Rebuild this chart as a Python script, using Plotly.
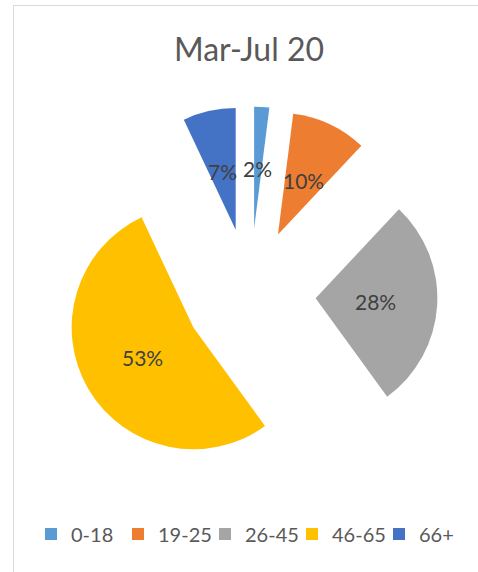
import math
import plotly.graph_objects as go

# Age-group shares for Mar-Jul 20
groups = ["0-18", "19-25", "26-45", "46-65", "66+"]
shares = [2, 10, 28, 53, 7]
colors = ["#5B9BD5", "#ED7D31", "#A5A5A5", "#FFC000", "#4472C4"]
explode = [0.54, 0.54, 0.54, 0.54, 0.54]

FONT = "Lato"
FIG_W, FIG_H = 478, 572
M_L, M_R, M_T, M_B = 14, 14, 104, 88
PLOT_W = FIG_W - M_L - M_R
PLOT_H = FIG_H - M_T - M_B


def px_x(x):
    return (x - M_L) / PLOT_W


def px_y(y):
    return (FIG_H - M_B - y) / PLOT_H


# Pie box: centred at x=250 px, 375 px square, vertically centred on the plot area
PIE_CX, PIE_HALF = 250, 187.5
dom_x = [px_x(PIE_CX - PIE_HALF), px_x(PIE_CX + PIE_HALF)]

fig = go.Figure(
    go.Pie(
        labels=groups,
        values=shares,
        sort=False,
        direction="clockwise",
        rotation=0,
        pull=explode,
        domain=dict(x=dom_x, y=[0, 1]),
        marker=dict(colors=colors, line=dict(width=0)),
        textinfo="none",
        hoverinfo="label+percent",
    )
)

# Data labels sit halfway out along each exploded slice's bisector,
# using the same radius plotly derives for the pie.
box_w = PLOT_W * (dom_x[1] - dom_x[0])
r_px = min(box_w, PLOT_H) / 2 / (1 + max(explode))
cx_paper = (dom_x[0] + dom_x[1]) / 2
total = sum(shares)
cum = 0
annotations = []
for v, p in zip(shares, explode):
    mid = math.radians((cum + v / 2) / total * 360)
    cum += v
    dist = (p + 0.49) * r_px
    annotations.append(dict(
        x=cx_paper + dist * math.sin(mid) / PLOT_W,
        y=0.5 + dist * math.cos(mid) / PLOT_H,
        xref="paper", yref="paper",
        text=f"{round(v / total * 100)}%",
        showarrow=False,
        xanchor="center", yanchor="middle",
        font=dict(family=FONT, size=21, color="#404040"),
    ))

# Chart-area frame
fig.add_shape(
    type="rect", xref="paper", yref="paper",
    x0=px_x(13.5), x1=px_x(FIG_W + 5),
    y0=px_y(FIG_H + 5), y1=px_y(5.5),
    line=dict(color="#D9D9D9", width=1),
    fillcolor="rgba(0,0,0,0)",
    layer="below",
)

fig.update_layout(
    width=FIG_W, height=FIG_H, autosize=False,
    margin=dict(l=M_L, r=M_R, t=M_T, b=M_B),
    paper_bgcolor="white", plot_bgcolor="white",
    title=dict(
        text="Mar-Jul 20",
        x=249 / FIG_W, xref="container", xanchor="center",
        y=1 - 50 / FIG_H, yref="container", yanchor="middle",
        font=dict(family=FONT, size=32, color="#595959"),
    ),
    annotations=annotations,
    showlegend=True,
    legend=dict(
        orientation="h",
        x=px_x(31), xanchor="left",
        y=px_y(534), yanchor="middle",
        font=dict(family=FONT, size=20, color="#595959"),
        itemwidth=30,
        entrywidth=42,
        entrywidthmode="pixels",
        bgcolor="rgba(0,0,0,0)",
    ),
)

fig.write_html("out.html")
